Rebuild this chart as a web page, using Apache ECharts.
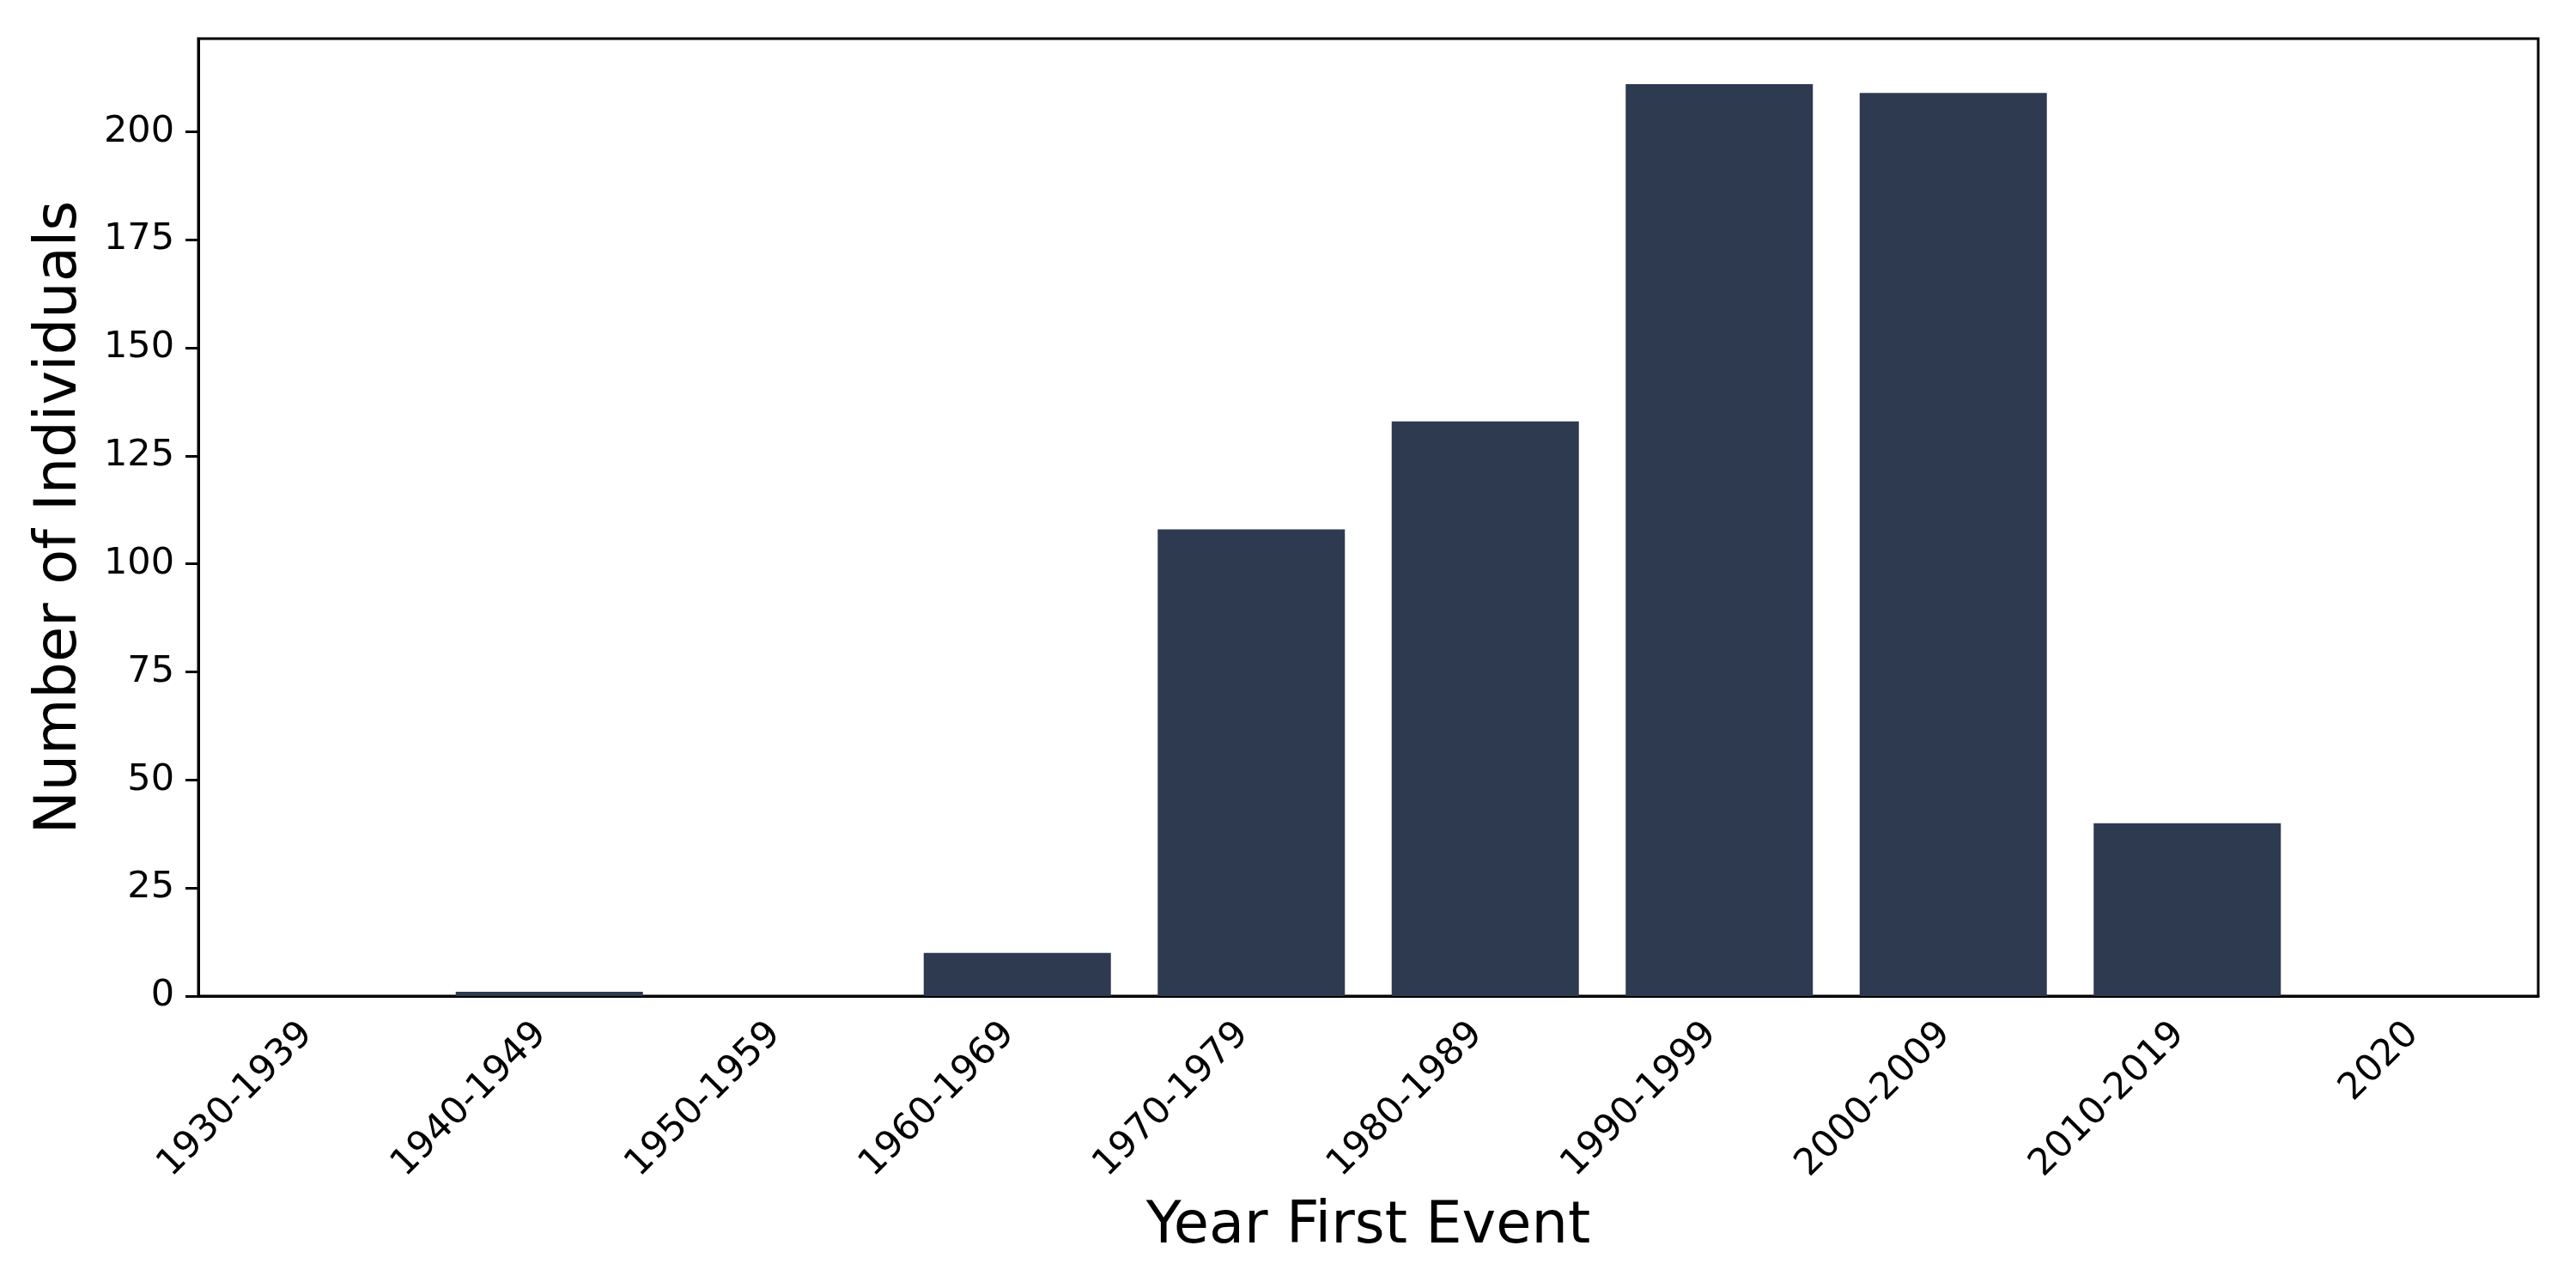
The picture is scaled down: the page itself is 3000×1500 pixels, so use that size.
<!DOCTYPE html>
<html>
<head>
<meta charset="utf-8">
<script src="https://cdn.jsdelivr.net/npm/echarts@6/dist/echarts.min.js"></script>
<style>
  html, body { margin: 0; padding: 0; background: #fff; }
  #chart { width: 3000px; height: 1500px; }
</style>
</head>
<body>
<div id="chart"></div>
<script>
// decades of first event
const decades = ['1930-1939', '1940-1949', '1950-1959', '1960-1969', '1970-1979',
  '1980-1989', '1990-1999', '2000-2009', '2010-2019', '2020'];
// number of individuals per decade
const individuals = [0, 1, 0, 10, 108, 133, 211, 209, 40, 0];
// y tick labels
const yTicks = [0, 25, 50, 75, 100, 125, 150, 175, 200];

const font = 'DejaVu Sans';
const chart = echarts.init(document.getElementById('chart'), null, { renderer: 'canvas' });

chart.setOption({
  animation: false,
  backgroundColor: '#ffffff',
  grid: {
    left: 231, right: 44, top: 45, bottom: 340,
    show: true, borderColor: '#000', borderWidth: 3, backgroundColor: 'transparent'
  },
  xAxis: {
    type: 'category',
    data: decades,
    boundaryGap: true,
    name: 'Year First Event',
    nameLocation: 'middle',
    nameGap: 236,
    nameTextStyle: { fontFamily: font, fontSize: 67, color: '#000' },
    axisLine: { lineStyle: { color: '#000', width: 3 } },
    axisTick: { alignWithLabel: true, length: 15, lineStyle: { color: '#000', width: 3 } },
    axisLabel: {
      rotate: 45, margin: 28, padding: [0, 14, 0, 0],
      fontFamily: font, fontSize: 43, color: '#000', interval: 0
    },
    splitLine: { show: false }
  },
  yAxis: {
    type: 'value',
    min: 0,
    max: 221.55,
    interval: 25,
    name: 'Number of Individuals',
    nameLocation: 'middle',
    nameGap: 127,
    nameTextStyle: { fontFamily: font, fontSize: 67, color: '#000' },
    axisLine: { show: true, lineStyle: { color: '#000', width: 3 } },
    axisTick: { show: true, length: 15, customValues: yTicks, lineStyle: { color: '#000', width: 3 } },
    axisLabel: { margin: 28, customValues: yTicks, fontFamily: font, fontSize: 43, color: '#000' },
    splitLine: { show: false }
  },
  series: [{
    type: 'bar',
    data: individuals,
    barCategoryGap: '20%',
    itemStyle: { color: '#2e3a50' }
  }]
});
</script>
</body>
</html>
